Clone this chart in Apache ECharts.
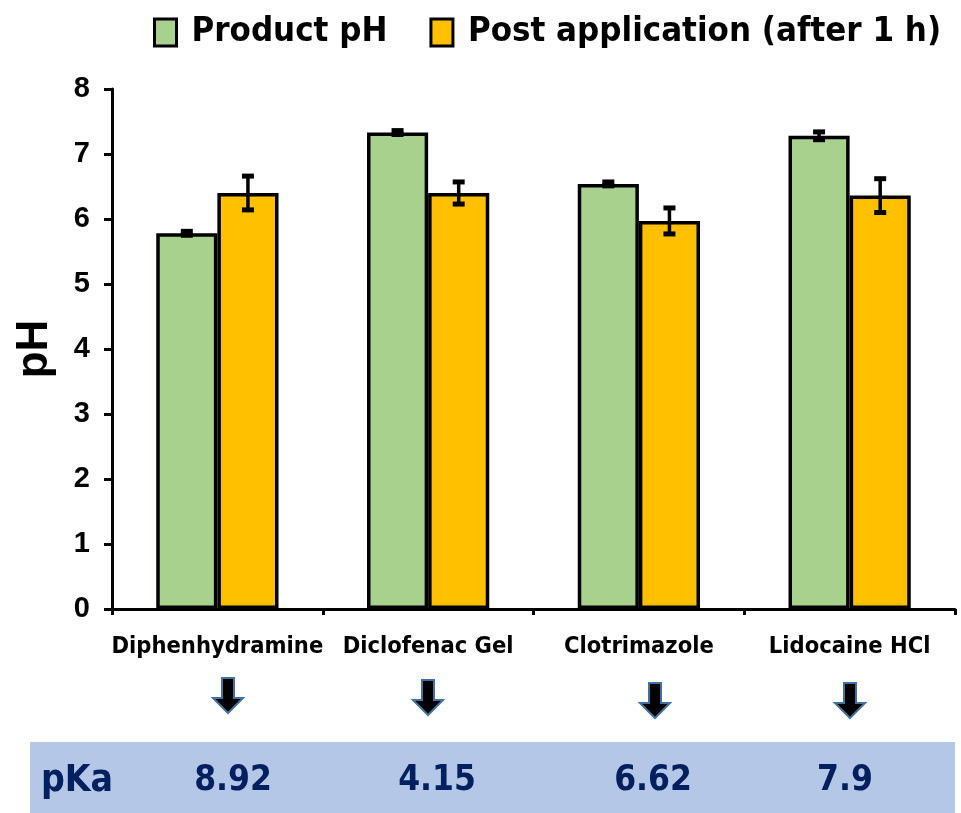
<!DOCTYPE html>
<html>
<head>
<meta charset="utf-8">
<script src="https://cdn.jsdelivr.net/npm/echarts@6/dist/echarts.min.js"></script>
<style>
  html, body { margin: 0; padding: 0; background: #fff; }
  #chart { width: 961px; height: 813px; }
</style>
</head>
<body>
<div id="chart"></div>
<script>
// Skin product pH before and after application, with drug pKa values
const categories = ['Diphenhydramine', 'Diclofenac Gel', 'Clotrimazole', 'Lidocaine HCl'];
const productPH = [5.78, 7.33, 6.54, 7.28];
const productErr = [0.03, 0.03, 0.03, 0.06];
const postPH = [6.40, 6.40, 5.97, 6.36];
const postErr = [0.26, 0.17, 0.20, 0.26];
const pKaValues = ['8.92', '4.15', '6.62', '7.9'];
const yTickLabels = ['0', '1', '2', '3', '4', '5', '6', '7', '8'];

const NARROW = '"Liberation Sans Narrow", "DejaVu Sans Condensed", "Liberation Sans", sans-serif';
const BAR_GAP = 0.42;

// Layout of the arrows and the pKa strip under the axis
const arrowSpots = [[228, 678], [428, 680], [655, 683], [850, 683]];
const pKaCenters = [233, 437, 653, 845];

function arrowPoints(cx, top) {
  const sw = 6, hw = 15, h = 35, hh = 15;
  return [
    [cx - sw, top], [cx + sw, top], [cx + sw, top + h - hh], [cx + hw, top + h - hh],
    [cx, top + h], [cx - hw, top + h - hh], [cx - sw, top + h - hh]
  ];
}

function errorSeries(name, values, errs, side) {
  return {
    type: 'custom',
    name: name,
    silent: true,
    z: 10,
    data: values.map((v, i) => [i, v - errs[i], v + errs[i]]),
    renderItem(params, api) {
      const i = api.value(0);
      const lo = api.coord([i, api.value(1)]);
      const hi = api.coord([i, api.value(2)]);
      const band = api.size([1, 0])[0];
      const barW = band * (1 - BAR_GAP) / 2;
      const x = lo[0] + side * barW / 2;
      const cap = 6;
      const st = { stroke: '#000', lineWidth: 3.5 };
      const capSt = { stroke: '#000', lineWidth: 5 };
      return {
        type: 'group',
        children: [
          { type: 'line', shape: { x1: x, y1: hi[1], x2: x, y2: lo[1] }, style: st },
          { type: 'line', shape: { x1: x - cap, y1: hi[1], x2: x + cap, y2: hi[1] }, style: capSt },
          { type: 'line', shape: { x1: x - cap, y1: lo[1], x2: x + cap, y2: lo[1] }, style: capSt }
        ]
      };
    }
  };
}

const graphics = [
  { type: 'rect', shape: { x: 30, y: 742, width: 925, height: 71 }, style: { fill: '#B4C7E7' }, z: 0 },
  { type: 'text', x: 77, y: 781, style: { text: 'pKa', fill: '#002060', font: 'bold 37px ' + NARROW, align: 'center', verticalAlign: 'middle' } }
];
pKaValues.forEach((v, i) => {
  graphics.push({ type: 'text', x: pKaCenters[i], y: 781,
    style: { text: v, fill: '#002060', font: 'bold 35px ' + NARROW, align: 'center', verticalAlign: 'middle' } });
});
arrowSpots.forEach(([cx, top]) => {
  graphics.push({ type: 'polygon', shape: { points: arrowPoints(cx, top) },
    style: { fill: '#000', stroke: '#41719C', lineWidth: 2 } });
});

const chart = echarts.init(document.getElementById('chart'), null, { renderer: 'canvas' });
chart.setOption({
  animation: false,
  backgroundColor: '#fff',
  grid: { left: 112, right: 6, top: 89, bottom: 204, containLabel: false },
  legend: {
    data: ['Product pH', 'Post application (after 1 h)'],
    orient: 'horizontal',
    left: 148, top: 10, width: 900,
    icon: 'rect',
    itemWidth: 22, itemHeight: 27, itemGap: 42,
    itemStyle: { borderColor: '#000', borderWidth: 3 },
    textStyle: { fontSize: 34.5, fontWeight: 'bold', color: '#000', fontFamily: NARROW, padding: [0, 0, 0, 10] }
  },
  xAxis: {
    type: 'category',
    data: categories,
    axisLine: { lineStyle: { color: '#000', width: 3 } },
    axisTick: { show: true, interval: 0, length: 6, lineStyle: { color: '#000', width: 3 } },
    axisLabel: { interval: 0, color: '#000', fontSize: 23.5, fontWeight: 'bold', fontFamily: NARROW, margin: 26 }
  },
  yAxis: {
    type: 'value',
    min: 0, max: 8, interval: 1,
    name: 'pH',
    nameLocation: 'middle',
    nameGap: 55,
    nameRotate: 90,
    nameTextStyle: { fontSize: 44, fontWeight: 'bold', color: '#000', fontFamily: '"Liberation Sans", sans-serif' },
    splitLine: { show: false },
    axisLine: { show: true, lineStyle: { color: '#000', width: 3 } },
    axisTick: { show: true, length: 8, lineStyle: { color: '#000', width: 3 } },
    axisLabel: {
      color: '#000', fontSize: 29, fontWeight: 'bold', fontFamily: '"Liberation Sans", sans-serif', margin: 22,
      formatter: v => yTickLabels[v]
    }
  },
  series: [
    {
      name: 'Product pH', type: 'bar', data: productPH,
      barGap: '0%', barCategoryGap: (BAR_GAP * 100) + '%',
      itemStyle: { color: '#A9D18E', borderColor: '#000', borderWidth: 3.5 }
    },
    {
      name: 'Post application (after 1 h)', type: 'bar', data: postPH,
      itemStyle: { color: '#FFC000', borderColor: '#000', borderWidth: 3.5 }
    },
    errorSeries('Product pH error', productPH, productErr, -1),
    errorSeries('Post application error', postPH, postErr, 1)
  ],
  graphic: graphics
});
</script>
</body>
</html>
